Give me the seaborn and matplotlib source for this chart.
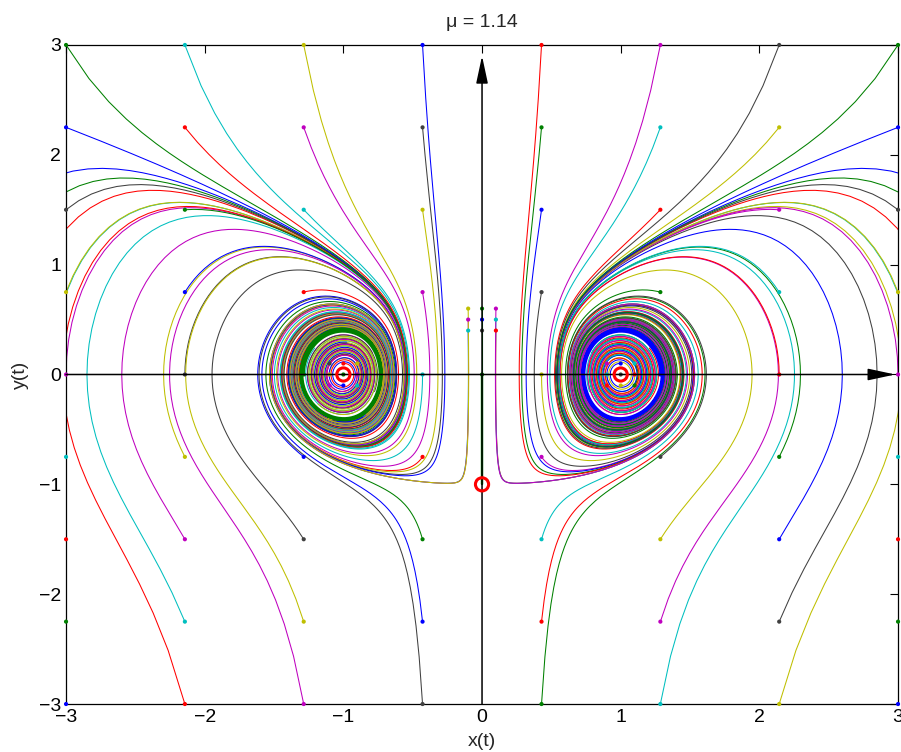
import numpy as np
import pandas as pd
import matplotlib
matplotlib.use("Agg")
import matplotlib.pyplot as plt
import seaborn as sns

# ---- model parameter and starting points -------------------------------
mu = 1.14
x_starts = [-3.0, -2.143, -1.286, -0.429, 0.429, 1.286, 2.143, 3.0]
y_starts = [-3.0, -2.25, -1.5, -0.75, 0.0, 0.75, 1.5, 2.25, 3.0]
offsets = [-0.1, 0.0, 0.1]
# centres of the small 3x3 start grids and the colour each grid begins with
small_grid_x = [0.0, -1.0, 1.0]
small_grid_y = [0.5, 0.0, 0.0]
small_grid_first_colour = [3, 4, 2]
# starts whose orbits are drawn heavier (they sit on the periodic orbits / x = 0)
heavy_starts = [(-1.286, 0.0), (1.286, 0.0)]
origin_start = (0.0, 0.0)
equilibria_x = [-1.0, 1.0, 0.0]
equilibria_y = [0.0, 0.0, -1.0]
tick_vals = [-3, -2, -1, 0, 1, 2, 3]

color_order = ["b", "g", "r", "c", "m", "y", "k"]
rgb = {"b": (0, 0, 1), "g": (0, 0.5, 0), "r": (1, 0, 0), "c": (0, 0.75, 0.75),
       "m": (0.75, 0, 0.75), "y": (0.75, 0.75, 0), "k": (0.25, 0.25, 0.25)}

T_END = 20.0
DT = 0.004
SAVE_EVERY = 5
SADDLE_PULL = 3.0


def field(x, y):
    eps = mu - 1.0
    dx = -x * y
    dy = (x**2 - 1.0 - y**3 + eps * y * 2.0 * x**2 / (1.0 + x**4)
          - SADDLE_PULL * (1.0 + y) * (1.0 - x**2) ** 2 * np.exp(-6.0 * x**2))
    return dx, dy


def integrate(x0, y0, t_end):
    x = np.array(x0, dtype=float)
    y = np.array(y0, dtype=float)
    n = int(round(t_end / DT))
    xs, ys = [x.copy()], [y.copy()]
    for i in range(n):
        k1x, k1y = field(x, y)
        k2x, k2y = field(x + 0.5 * DT * k1x, y + 0.5 * DT * k1y)
        k3x, k3y = field(x + 0.5 * DT * k2x, y + 0.5 * DT * k2y)
        k4x, k4y = field(x + DT * k3x, y + DT * k3y)
        x = x + DT / 6.0 * (k1x + 2 * k2x + 2 * k3x + k4x)
        y = y + DT / 6.0 * (k1y + 2 * k2y + 2 * k3y + k4y)
        bad = (np.abs(x) > 40) | (np.abs(y) > 40) | ~np.isfinite(x) | ~np.isfinite(y)
        x[bad] = np.nan
        y[bad] = np.nan
        if (i + 1) % SAVE_EVERY == 0:
            xs.append(x.copy())
            ys.append(y.copy())
    return np.array(xs), np.array(ys)


# ---- assemble initial conditions with cycling colours --------------------
starts, cols = [], []
k = 0
for xv in x_starts:
    for yv in y_starts:
        starts.append((xv, yv))
        cols.append(color_order[k % 7])
        k += 1
for cx, cy, c0 in zip(small_grid_x, small_grid_y, small_grid_first_colour):
    k = c0
    for dx in offsets:
        for dy in offsets:
            starts.append((cx + dx, cy + dy))
            cols.append(color_order[k % 7])
            k += 1
starts.append(origin_start)
cols.append("g")

palette = {j: rgb[c] for j, c in enumerate(cols)}
heavy = [j for j, p in enumerate(starts) if p in heavy_starts or p == origin_start]

X, Y = integrate([p[0] for p in starts], [p[1] for p in starts], T_END)
frames = []
for j in range(len(starts)):
    ok = np.isfinite(X[:, j])
    frames.append(pd.DataFrame({"traj": j, "x": X[ok, j], "y": Y[ok, j]}))
df = pd.concat(frames, ignore_index=True)
thin_df = df[~df["traj"].isin(heavy)]
heavy_df = df[df["traj"].isin(heavy)]

# ---- draw ---------------------------------------------------------------
sns.set_theme(style="white")
plt.rcParams["font.family"] = ["Liberation Sans", "DejaVu Sans"]

fig = plt.figure(figsize=(9.01, 7.52), dpi=100)
ax = fig.add_axes([0.0733, 0.0638, 0.9234, 0.8764])

sns.lineplot(data=thin_df, x="x", y="y", hue="traj",
             palette={j: palette[j] for j in thin_df["traj"].unique()},
             units="traj", estimator=None, sort=False, legend=False,
             linewidth=0.75, ax=ax)
sns.lineplot(data=heavy_df, x="x", y="y", hue="traj",
             palette={j: palette[j] for j in heavy}, units="traj",
             estimator=None, sort=False, legend=False, linewidth=1.7, ax=ax)

start_df = pd.DataFrame({"x": [p[0] for p in starts], "y": [p[1] for p in starts],
                         "traj": range(len(starts))})
sns.scatterplot(data=start_df, x="x", y="y", hue="traj", palette=palette,
                s=9, linewidth=0, legend=False, ax=ax, zorder=5, clip_on=False)

# coordinate axes with arrow heads
ax.annotate("", xy=(2.98, 0), xytext=(-3, 0),
            arrowprops=dict(arrowstyle="-|>,head_length=1.4,head_width=0.3",
                            color="black", lw=1.1, shrinkA=0, shrinkB=0), zorder=6)
ax.annotate("", xy=(0, 2.9), xytext=(0, -3),
            arrowprops=dict(arrowstyle="-|>,head_length=1.4,head_width=0.3",
                            color="black", lw=1.1, shrinkA=0, shrinkB=0), zorder=6)

eq = pd.DataFrame({"x": equilibria_x, "y": equilibria_y})
ax.scatter(eq["x"], eq["y"], s=90, facecolors="none", edgecolors="red",
           linewidths=2.2, zorder=7)

ax.set_xlim(-3, 3)
ax.set_ylim(-3, 3)
ax.set_xticks(tick_vals)
ax.set_yticks(tick_vals)
ax.tick_params(direction="in", length=6, width=0.8, top=True, right=True,
               labelsize=14, colors="black")
for s in ax.spines.values():
    s.set_color("black")
    s.set_linewidth(0.9)
ax.set_xlabel("x(t)", fontsize=14, labelpad=5)
ax.set_ylabel("y(t)", fontsize=14, labelpad=7)
ax.set_title("\u03bc = 1.14", fontsize=14, pad=13)

fig.savefig("out.png", dpi=100)
